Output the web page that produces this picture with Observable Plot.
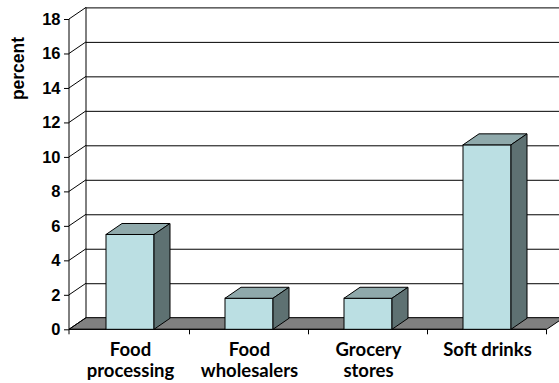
<!DOCTYPE html>
<html>
<head>
<meta charset="utf-8">
<script src="https://cdn.jsdelivr.net/npm/d3@7"></script>
<script src="https://cdn.jsdelivr.net/npm/@observablehq/plot@0.6"></script>
<style>
  html, body { margin: 0; padding: 0; background: #fff; overflow: hidden; }
  #chart svg { display: block; }
</style>
</head>
<body>
<div id="chart"></div>
<script>
// ---- data ----
const categories = ["Food processing", "Food wholesalers", "Grocery stores", "Soft drinks"];
const tickLabels = ["Food\nprocessing", "Food\nwholesalers", "Grocery\nstores", "Soft drinks"];
const values = [5.5, 1.8, 1.8, 10.7];
const yTicks = [0, 2, 4, 6, 8, 10, 12, 14, 16, 18];
const yLabel = "percent";

const data = categories.map((c, i) => ({category: c, value: values[i]}));
const labelOf = new Map(categories.map((c, i) => [c, tickLabels[i]]));

// ---- style ----
const DX = 17, DY = -11.6;       // wall depth offset (px)
const BDX = 16, BDY = -11;       // bar depth offset (px)
const FRONT = "#BBDFE3", TOP = "#8FA9AB", SIDE = "#5E7172", FLOOR = "#808080";
const ARIAL = "'Liberation Sans', Arial, sans-serif";

function walls(index, scales, vals, dims) {
  const {x, y} = scales;
  const g = d3.create("svg:g");
  const xl = dims.marginLeft, xr = dims.width - dims.marginRight;
  const y0 = y(0), yT = y(yTicks[yTicks.length - 1]);
  g.append("path")
    .attr("d", `M${xl},${y0}L${xr},${y0}L${xr + DX},${y0 + DY}L${xl + DX},${y0 + DY}Z`)
    .attr("fill", FLOOR).attr("stroke", "#000").attr("stroke-width", 1);
  g.append("line").attr("x1", xl + DX).attr("x2", xl + DX)
    .attr("y1", y0 + DY).attr("y2", yT + DY).attr("stroke", "#000");
  for (const t of yTicks) {
    g.append("line").attr("x1", xl).attr("y1", y(t)).attr("x2", xl + DX).attr("y2", y(t) + DY)
      .attr("stroke", "#000");
  }
  g.append("line").attr("x1", xl).attr("x2", xl).attr("y1", y0).attr("y2", yT).attr("stroke", "#000");
  g.append("line").attr("x1", xl).attr("x2", xr).attr("y1", y0).attr("y2", y0).attr("stroke", "#000");
  const step = x.step(), bw = x.bandwidth();
  const bounds = [xl, ...categories.map(c => x(c) + bw + (step - bw) / 2)];
  for (const b of bounds) {
    g.append("line").attr("x1", b).attr("x2", b).attr("y1", y0).attr("y2", y0 + 5).attr("stroke", "#000");
  }
  return g.node();
}

function bars3d(index, scales, vals, dims, context, next) {
  const g = next(index, scales, vals, dims, context);
  const bw = scales.x.bandwidth();
  const extra = d3.select(g).append("g").attr("stroke", "#000").attr("stroke-width", 1);
  for (const i of index) {
    const x1 = vals.x[i], x2 = x1 + bw;
    const yt = Math.min(vals.y1[i], vals.y2[i]), yb = Math.max(vals.y1[i], vals.y2[i]);
    extra.append("path").attr("fill", TOP)
      .attr("d", `M${x1},${yt}L${x2},${yt}L${x2 + BDX},${yt + BDY}L${x1 + BDX},${yt + BDY}Z`);
    extra.append("path").attr("fill", SIDE)
      .attr("d", `M${x2},${yt}L${x2 + BDX},${yt + BDY}L${x2 + BDX},${yb + BDY}L${x2},${yb}Z`);
  }
  return g;
}

const chart = Plot.plot({
  width: 559,
  height: 383,
  marginLeft: 69,
  marginRight: 12.3,
  marginTop: 19,
  marginBottom: 53.7,
  style: {fontFamily: ARIAL, background: "#fff", color: "#000", overflow: "hidden"},
  x: {domain: categories, paddingInner: 0.6, paddingOuter: 0.3},
  y: {domain: [0, 18]},
  marks: [
    Plot.ruleY(yTicks, {stroke: "#000", strokeWidth: 1, dx: DX, dy: DY}),
    Plot.ruleY([0], {render: walls}),
    Plot.barY(data, {x: "category", y: "value", fill: FRONT, stroke: "#000", strokeWidth: 1, render: bars3d}),
    Plot.axisY({ticks: yTicks, tickSize: 5, tickPadding: 4, fontSize: 16.5, fontWeight: "bold",
      fontFamily: ARIAL, label: null}),
    Plot.axisX({tickSize: 0, tickPadding: 11, fontSize: 18.5, fontWeight: "bold", lineHeight: 1.15,
      fontFamily: "Lato, 'Open Sans', sans-serif", tickFormat: d => labelOf.get(d), label: null}),
    Plot.text([yLabel], {frameAnchor: "top-left", rotate: -90, dx: -51.5, dy: 49,
      textAnchor: "middle", lineAnchor: "middle", fontSize: 17.5, fontWeight: "bold",
      fontFamily: ARIAL, fill: "#000"})
  ]
});
document.getElementById("chart").appendChild(chart);
</script>
</body>
</html>
